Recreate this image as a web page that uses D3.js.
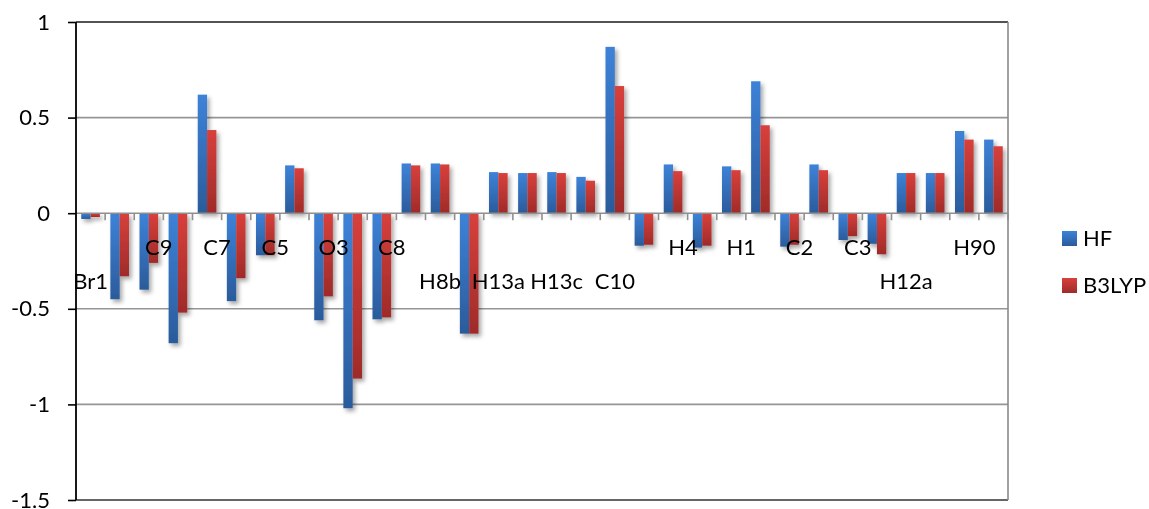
<!DOCTYPE html>
<html>
<head>
<meta charset="utf-8">
<script src="https://cdn.jsdelivr.net/npm/d3@7"></script>
<style>
  html, body { margin: 0; padding: 0; background: #fff; }
  svg { display: block; }
  text { font-family: Lato, "Open Sans", sans-serif; fill: #000; }
</style>
</head>
<body>
<svg id="chart" width="1149" height="509"></svg>
<script>
// Atom labels along the category axis; only every other atom is labelled.
// A leading "\n" means the label text sits on its second line.
const atomLabels = [
  "\nBr1", "", "C9", "", "C7", "", "C5", "", "O3", "", "C8", "",
  "\nH8b", "", "\nH13a", "", "\nH13c", "", "\nC10", "", "H4", "",
  "H1", "", "C2", "", "C3", "", "\nH12a", "", "H90", ""
];

const seriesNames = ["HF", "B3LYP"];

// Charges, Hartree-Fock
const hfValues = [
  -0.03, -0.45, -0.40, -0.68, 0.62, -0.46, -0.22, 0.25,
  -0.56, -1.02, -0.555, 0.26, 0.26, -0.63, 0.215, 0.21,
  0.215, 0.19, 0.87, -0.17, 0.255, -0.18, 0.245, 0.69,
  -0.175, 0.255, -0.14, -0.16, 0.21, 0.21, 0.43, 0.385
];

// Charges, B3LYP
const b3lypValues = [
  -0.02, -0.33, -0.26, -0.52, 0.435, -0.34, -0.22, 0.235,
  -0.435, -0.865, -0.545, 0.25, 0.255, -0.63, 0.21, 0.21,
  0.21, 0.17, 0.665, -0.165, 0.22, -0.17, 0.225, 0.46,
  -0.165, 0.225, -0.12, -0.215, 0.21, 0.21, 0.385, 0.35
];

const yTicks = [1, 0.5, 0, -0.5, -1, -1.5];

const svg = d3.select("#chart");
const plot = { left: 76, right: 1008, top: 22, bottom: 500 };
const colors = {
  HF: ["#3d82d8", "#2b5b9b"],
  B3LYP: ["#d8403c", "#9f2b29"]
};

const defs = svg.append("defs");
seriesNames.forEach(name => {
  const g = defs.append("linearGradient")
    .attr("id", "grad-" + name)
    .attr("x1", 0).attr("y1", 0).attr("x2", 0).attr("y2", 1);
  g.append("stop").attr("offset", "0%").attr("stop-color", colors[name][0]);
  g.append("stop").attr("offset", "100%").attr("stop-color", colors[name][1]);
});
const shadow = defs.append("filter").attr("id", "shadow")
  .attr("x", "-50%").attr("y", "-20%").attr("width", "200%").attr("height", "140%");
shadow.append("feDropShadow")
  .attr("dx", 2.5).attr("dy", 3).attr("stdDeviation", 2)
  .attr("flood-color", "#000").attr("flood-opacity", 0.35);

const y = d3.scaleLinear().domain([-1.5, 1]).range([plot.bottom, plot.top]);
const x0 = d3.scaleBand()
  .domain(d3.range(atomLabels.length))
  .range([plot.left, plot.right])
  .paddingInner(0.36).paddingOuter(0.18);
const x1 = d3.scaleBand().domain(seriesNames).range([0, x0.bandwidth()]);
const step = x0.step();

// Horizontal gridlines
svg.append("g").selectAll("line")
  .data(yTicks.filter(t => t !== 0 && t !== 1 && t !== -1.5))
  .join("line")
  .attr("x1", plot.left).attr("x2", plot.right)
  .attr("y1", d => y(d)).attr("y2", d => y(d))
  .attr("stroke", "#959595").attr("stroke-width", 1.6);

// Plot frame: top and bottom dark, right grey
svg.append("line").attr("x1", plot.left).attr("x2", plot.right)
  .attr("y1", y(1)).attr("y2", y(1)).attr("stroke", "#1a1a1a").attr("stroke-width", 1.6);
svg.append("line").attr("x1", plot.left).attr("x2", plot.right)
  .attr("y1", y(-1.5)).attr("y2", y(-1.5)).attr("stroke", "#333").attr("stroke-width", 1.6);
svg.append("line").attr("x1", plot.right).attr("x2", plot.right)
  .attr("y1", y(1)).attr("y2", y(-1.5)).attr("stroke", "#8a8a8a").attr("stroke-width", 1.6);

// Bars
const rows = atomLabels.map((lab, i) => ({ i, HF: hfValues[i], B3LYP: b3lypValues[i] }));
const groups = svg.append("g").attr("filter", "url(#shadow)")
  .selectAll("g").data(rows).join("g")
  .attr("transform", d => `translate(${x0(d.i)},0)`);
groups.selectAll("rect")
  .data(d => seriesNames.map(s => ({ s, v: d[s] })))
  .join("rect")
  .attr("x", d => x1(d.s))
  .attr("width", x1.bandwidth())
  .attr("y", d => y(Math.max(0, d.v)))
  .attr("height", d => Math.abs(y(d.v) - y(0)))
  .attr("fill", d => `url(#grad-${d.s})`);

// Category axis along zero
const zeroY = y(0);
svg.append("line").attr("x1", plot.left).attr("x2", plot.right)
  .attr("y1", zeroY).attr("y2", zeroY).attr("stroke", "#8f8f8f").attr("stroke-width", 1.6);
svg.append("g").selectAll("line")
  .data(d3.range(atomLabels.length + 1))
  .join("line")
  .attr("x1", i => plot.left + i * step).attr("x2", i => plot.left + i * step)
  .attr("y1", zeroY).attr("y2", zeroY + 7)
  .attr("stroke", "#8f8f8f").attr("stroke-width", 1.6);

// Category labels
svg.append("g").selectAll("text")
  .data(rows.filter(d => atomLabels[d.i] !== ""))
  .join("text")
  .attr("text-anchor", "middle")
  .attr("font-size", 22)
  .attr("x", d => x0(d.i) + x0.bandwidth() / 2 + (atomLabels[d.i].startsWith("\n") ? 0 : 10))
  .attr("y", d => zeroY + (atomLabels[d.i].startsWith("\n") ? 76 : 42))
  .text(d => atomLabels[d.i].trim());

// Value axis
const yAxis = svg.append("g").attr("transform", `translate(${plot.left},0)`)
  .call(d3.axisLeft(y).tickValues(yTicks).tickSize(8).tickPadding(18)
    .tickFormat(d3.format("")));
yAxis.select(".domain").attr("stroke", "#000").attr("stroke-width", 1.8)
  .attr("d", `M0,${y(1)}V${y(-1.5)}`);
yAxis.selectAll(".tick line").attr("stroke", "#000").attr("stroke-width", 1.6);
yAxis.selectAll(".tick text")
  .attr("font-size", 22).attr("font-family", "Lato, 'Open Sans', sans-serif")
  .attr("fill", "#000").text(d => d === 0 ? "0" : String(d).replace("-", "-"));

// Legend
const legend = svg.append("g").selectAll("g").data(seriesNames).join("g")
  .attr("transform", (d, i) => `translate(1062,${231 + i * 47})`);
legend.append("rect").attr("width", 15).attr("height", 15)
  .attr("fill", d => `url(#grad-${d})`);
legend.append("text").attr("x", 21).attr("y", 7.5).attr("dy", "0.36em")
  .attr("font-size", 22).text(d => d);
</script>
</body>
</html>
